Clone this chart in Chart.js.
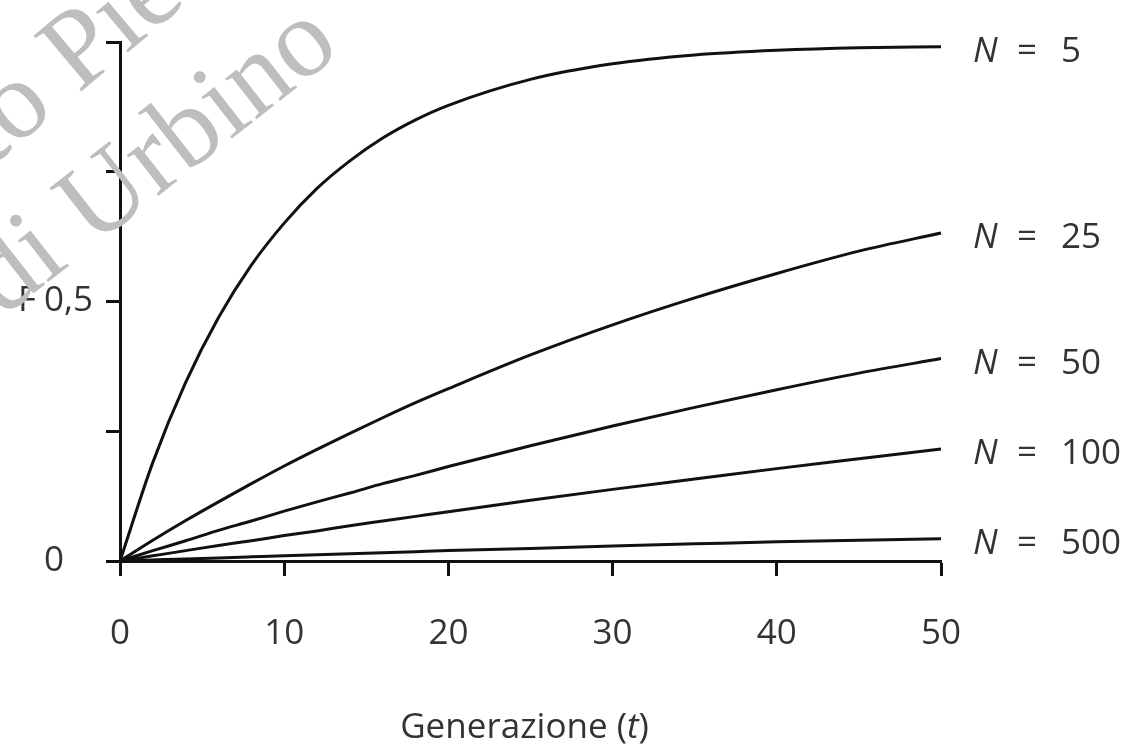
<!doctype html>
<html lang="it">

<head>
	<meta charset="utf-8">
	<meta name="viewport" content="width=device-width, initial-scale=1">
	<title>F e generazioni</title>
	<style>
		* {
			margin: 0;
			padding: 0;
		}

		body {
			background: #fff;
		}

		.chartBox {
			width: 1139px;
			height: 745px;
		}
	</style>
</head>

<body>
	<div class="chartBox">
		<canvas id="fChart"></canvas>
	</div>
	<script src="https://cdn.jsdelivr.net/npm/chart.js"></script>

	<script>
		// values
		const generations = [0, 2, 4, 6, 8, 10, 12, 14, 16, 18, 20, 25, 30, 35, 40, 45, 50]
		const fN5 = [0, 0.19, 0.344, 0.469, 0.57, 0.651, 0.718, 0.771, 0.815, 0.85, 0.878, 0.928, 0.958, 0.975, 0.984, 0.989, 0.991]
		const fN25 = [0, 0.04, 0.078, 0.114, 0.149, 0.183, 0.215, 0.246, 0.276, 0.305, 0.332, 0.397, 0.455, 0.507, 0.554, 0.597, 0.632]
		const fN50 = [0, 0.02, 0.039, 0.059, 0.077, 0.096, 0.114, 0.131, 0.149, 0.165, 0.182, 0.222, 0.26, 0.296, 0.33, 0.362, 0.39]
		const fN100 = [0, 0.01, 0.02, 0.03, 0.039, 0.049, 0.058, 0.068, 0.077, 0.086, 0.095, 0.117, 0.138, 0.158, 0.178, 0.197, 0.216]
		const fN500 = [0, 0.002, 0.004, 0.006, 0.008, 0.01, 0.012, 0.014, 0.016, 0.018, 0.02, 0.024, 0.029, 0.033, 0.037, 0.04, 0.043]
		const popSizes = ['5', '25', '50', '100', '500']
		const yTickLabels = { 0: '0', 0.5: '0,5' }
		const xTitle = ['Generazione (', 't', ')']

		const ink = '#111'
		const textInk = '#333'
		const fontFamily = '"Open Sans", "Noto Sans", sans-serif'
		const ctx = document.getElementById('fChart')

		const series = [fN5, fN25, fN50, fN100, fN500]
		const datasets = series.map((vals, i) => ({
			label: 'N = ' + popSizes[i],
			data: generations.map((g, j) => ({ x: g, y: vals[j] })),
			borderColor: ink,
			borderWidth: 3,
			pointRadius: 0,
			tension: 0.4,
			cubicInterpolationMode: 'monotone',
			clip: false,
		}))

		// labels at line ends, axis letter, x title and the scan watermark
		const extras = {
			id: 'extras',
			afterDatasetsDraw(chart) {
				const c = chart.ctx
				const x = chart.scales.x
				const y = chart.scales.y
				c.save()
				c.fillStyle = textInk
				c.textBaseline = 'middle'
				c.textAlign = 'left'
				chart.data.datasets.forEach((ds, i) => {
					const last = ds.data[ds.data.length - 1]
					const px = x.getPixelForValue(last.x) + 32
					const py = y.getPixelForValue(last.y) + 5
					c.font = 'italic 35px ' + fontFamily
					c.fillText('N', px, py)
					c.font = '35px ' + fontFamily
					c.fillText('=', px + 44, py)
					c.fillText(popSizes[i], px + 88, py)
				})

				// F next to 0,5
				c.font = '35px ' + fontFamily
				c.fillText('F', 18, y.getPixelForValue(0.5))

				// x title with italic t
				c.textBaseline = 'alphabetic'
				const mid = (chart.chartArea.left + chart.chartArea.right) / 2 - 6
				c.font = '35px ' + fontFamily
				const w0 = c.measureText(xTitle[0]).width
				const w2 = c.measureText(xTitle[2]).width
				c.font = 'italic 35px ' + fontFamily
				const w1 = c.measureText(xTitle[1]).width
				let tx = mid - (w0 + w1 + w2) / 2
				c.font = '35px ' + fontFamily
				c.fillText(xTitle[0], tx, 738)
				tx += w0
				c.font = 'italic 35px ' + fontFamily
				c.fillText(xTitle[1], tx, 738)
				tx += w1
				c.font = '35px ' + fontFamily
				c.fillText(xTitle[2], tx, 738)
				c.restore()
			},
			afterDraw(chart) {
				const c = chart.ctx
				c.save()
				c.fillStyle = '#bebebe'
				c.font = '112px "Liberation Serif", serif'
				c.textBaseline = 'alphabetic'
				c.textAlign = 'left'
				c.translate(-10, 168)
				c.rotate(-40 * Math.PI / 180)
				c.fillText('to Pie', 0, 0)
				c.restore()
				c.save()
				c.fillStyle = '#bebebe'
				c.font = '112px "Liberation Serif", serif'
				c.translate(2, 318)
				c.rotate(-38 * Math.PI / 180)
				c.fillText('di Urbino', 0, 0)
				c.restore()
			}
		}

		const config = {
			type: 'line',
			data: { datasets },
			options: {
				responsive: true,
				maintainAspectRatio: false,
				animation: false,
				layout: {
					padding: { left: 44, top: 42, right: 198, bottom: 0 }
				},
				plugins: {
					legend: { display: false },
					tooltip: { enabled: false }
				},
				scales: {
					x: {
						type: 'linear',
						min: 0,
						max: 50,
						afterFit: (s) => { s.height = 184 },
						grid: {
							drawOnChartArea: false,
							drawTicks: true,
							tickLength: 15,
							tickWidth: 3,
							tickColor: ink,
						},
						border: { display: true, color: ink, width: 3 },
						ticks: {
							stepSize: 10,
							padding: 37,
							color: textInk,
							font: { size: 35, family: fontFamily },
							maxRotation: 0,
						}
					},
					y: {
						min: 0,
						max: 1,
						afterFit: (s) => { s.width = 76 },
						grid: {
							drawOnChartArea: false,
							drawTicks: true,
							tickLength: 14,
							tickWidth: 3,
							tickColor: ink,
						},
						border: { display: true, color: ink, width: 3 },
						ticks: {
							stepSize: 0.25,
							crossAlign: 'far',
							color: textInk,
							font: { size: 35, family: fontFamily },
							callback: (v) => yTickLabels[v] !== undefined ? yTickLabels[v] : ''
						}
					}
				}
			},
			plugins: [extras]
		}

		const fChart = new Chart(ctx, config)
	</script>

</body>

</html>
